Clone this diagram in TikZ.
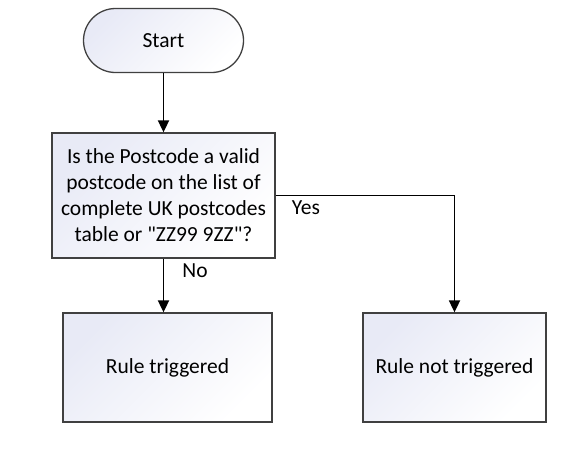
\documentclass[tikz,border=0pt]{standalone}
\usepackage{fontspec}
\setmainfont{Carlito}[Ligatures=TeXOff]
\usetikzlibrary{arrows.meta}
\definecolor{fillA}{HTML}{E8EAF6}
\definecolor{edge}{HTML}{404040}
\tikzset{
  box/.style={draw=edge, line width=1.3pt, top color=fillA, bottom color=white, shading angle=45,
    font=\fontsize{21.5}{26}\selectfont, align=center, inner sep=0pt},
  conn/.style={line width=1.8pt, -{Triangle[length=12pt,width=11pt]}},
  lbl/.style={font=\fontsize{21.5}{24}\selectfont, inner sep=0pt}
}
\begin{document}
\begin{tikzpicture}[x=1pt,y=-1pt]
\useasboundingbox[fill=white] (0,0) rectangle (586,456);
\node[box, rounded corners=32pt, minimum width=160pt, minimum height=64pt] (start) at (163.5,40.5) {Start};
\node[box, minimum width=223pt, minimum height=125pt] (dec) at (163.5,195.5)
  {Is the Postcode a valid\\postcode on the list of\\complete UK postcodes\\table or "ZZ99 9ZZ"?};
\node[box, minimum width=209pt, minimum height=109pt] (r1) at (167.5,367.5) {Rule triggered};
\node[box, minimum width=183pt, minimum height=109pt] (r2) at (454.5,367.5) {Rule not triggered};
\draw[conn] (start) -- (dec);
\draw[conn] (dec.south) -- (dec.south |- r1.north);
\draw[conn] (dec.east) -| (r2.north);
\node[lbl] (yes) at (306,208) {Yes};
\node[lbl] (no) at (195,271) {No};
\end{tikzpicture}
\end{document}
